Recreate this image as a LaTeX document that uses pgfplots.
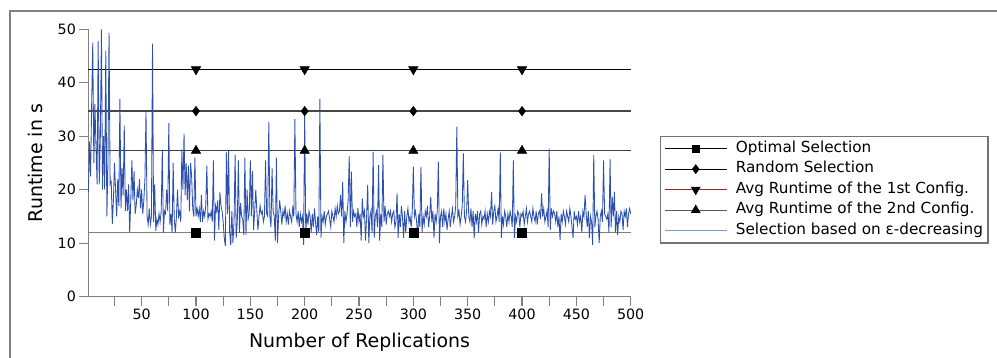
\documentclass[border=0pt]{standalone}
\usepackage{fontspec}
\setmainfont{DejaVu Sans}
\usepackage{pgfplots}
\pgfplotsset{compat=1.18}
\definecolor{epsblue}{RGB}{45,80,175}
\definecolor{legblue}{RGB}{120,150,215}
\definecolor{legred}{RGB}{140,40,40}
\begin{document}
\begin{tikzpicture}
\useasboundingbox (0bp,0bp) rectangle (997bp,358bp);
\draw[line width=1.6bp, color=black!50] (10bp,-10bp) -- (10bp,347bp) -- (1010bp,347bp);
\begin{axis}[
  at={(88.4bp,61.3bp)}, anchor=south west, scale only axis,
  width=542.3bp, height=267.4bp,
  xmin=1, xmax=500, ymin=0, ymax=50,
  axis x line*=bottom, axis y line*=left,
  axis line style={-, line width=1.5bp, color=black!50},
  tick align=outside, major tick length=9bp,
  tick style={line width=1.2bp, color=black!50},
  xtick={25,50,...,500},
  xticklabels={,50,,100,,150,,200,,250,,300,,350,,400,,450,,500},
  ytick={0,10,...,50},
  /pgf/number format/assume math mode=true,
  tick label style={font=\fontsize{14.3}{14.3}\selectfont, color=black},
  xlabel={Number of Replications},
  ylabel={Runtime in s},
  label style={font=\fontsize{19}{19}\selectfont},
  xlabel style={at={(axis description cs:0.5,-0.172)}, anchor=center},
  ylabel style={at={(axis description cs:-0.0977,0.5)}, anchor=center},
  clip=false,
  legend image code/.code={\draw[mark repeat=2,mark phase=2] plot coordinates {(0bp,0bp) (31bp,0bp) (62bp,0bp)};},
  legend style={at={(axis description cs:1.054,0.602)}, anchor=north west,
    draw=black!55, line width=1.3bp, inner xsep=3.5bp, inner ysep=3.5bp,
    font=\fontsize{15.3}{15.3}\selectfont, row sep=3bp,
    nodes={inner sep=1.5bp, text height=11bp, text depth=3.5bp},
    /tikz/every odd column/.append style={column sep=7bp}},
  legend cell align=left,
]
% horizontal reference lines
\addplot[forget plot, black, line width=1.3bp] coordinates {(1,42.5) (500,42.5)};
\addplot[forget plot, black!72, line width=1.3bp] coordinates {(1,34.7) (500,34.7)};
\addplot[forget plot, black!75, line width=1.3bp] coordinates {(1,27.3) (500,27.3)};
\addplot[forget plot, black!50, line width=1.3bp] coordinates {(1,12) (500,12)};
% epsilon-decreasing series
\addplot[forget plot, epsblue, line width=0.85bp] coordinates {
(1,19.5)(2,29)(3,22.5)(4,36)(5,47.5)(6,25)(7,36)(8,28)(9,21)(10,47.8)
(11,21)(12,30)(13,50)(14,20)(15,30)(16,20)(17,46)(18,15)(19,25)(20,49.4)
(21,21)(22,21.5)(23,13.6)(24,18)(25,25)(26,20)(27,15)(28,22)(29,17)(30,37)
(31,16.5)(32,24)(33,19)(34,32)(35,16)(36,20)(37,16)(38,21)(39,12)(40,18)
(41,25.5)(42,18)(43,23.5)(44,15.5)(45,17)(46,20)(47,18.5)(48,22)(49,16.5)(50,20)
(51,15.5)(52,18)(53,22)(54,34.5)(55,15)(56,13.5)(57,16.5)(58,13.5)(59,15)(60,47.3)
(61,14)(62,21)(63,12.3)(64,14.5)(65,13.5)(66,15.5)(67,14)(68,16)(69,27.5)(70,12)
(71,16)(72,15.5)(73,20)(74,16)(75,32.5)(76,13.5)(77,15.5)(78,12)(79,25)(80,14.5)
(81,12)(82,15)(83,20)(84,15)(85,16)(86,14)(87,27.5)(88,20)(89,30.5)(90,19)
(91,25)(92,18)(93,24.5)(94,16)(95,25)(96,22.5)(97,16.5)(98,15)(99,26)(100,15)
(101,16.5)(102,15)(103,16.5)(104,14)(105,19)(106,14)(107,16)(108,15)(109,17)(110,24.5)
(111,14.5)(112,15.5)(113,15)(114,16)(115,14)(116,25.5)(117,10.5)(118,17)(119,16)(120,18)
(121,12.5)(122,19.5)(123,17)(124,16)(125,14)(126,11)(127,9.5)(128,27)(129,15.5)(130,27.3)
(131,12)(132,9.6)(133,16)(134,10)(135,14)(136,26.5)(137,11)(138,14)(139,25.5)(140,12)
(141,17.5)(142,15)(143,14.5)(144,11.5)(145,26)(146,11.5)(147,20)(148,14.5)(149,15.5)(150,25.5)
(151,15)(152,23.5)(153,12.5)(154,16)(155,20)(156,16)(157,12.5)(158,15)(159,17)(160,15.5)
(161,16)(162,14)(163,15)(164,25.5)(165,15.5)(166,15)(167,32.7)(168,15)(169,13)(170,24)
(171,16)(172,15)(173,10.5)(174,26)(175,10)(176,15)(177,18)(178,16)(179,13.5)(180,16)
(181,15)(182,17)(183,14)(184,15.5)(185,13.5)(186,16)(187,15)(188,14)(189,16.5)(190,15)
(191,33.2)(192,15.5)(193,14)(194,16)(195,13)(196,15.5)(197,14)(198,15)(199,9.7)(200,34.3)
(201,12)(202,15.5)(203,13.5)(204,16)(205,15)(206,12)(207,15.5)(208,13)(209,16.5)(210,14)
(211,11.5)(212,15)(213,12)(214,37)(215,11)(216,15)(217,14)(218,16)(219,13.5)(220,15)
(221,15.5)(222,16)(223,14.5)(224,13)(225,16)(226,15)(227,14)(228,16.5)(229,15)(230,17)
(231,15.5)(232,16)(233,19)(234,15)(235,21.5)(236,10)(237,16)(238,14)(239,15.5)(240,18)
(241,26.3)(242,13)(243,23.4)(244,14)(245,16)(246,15)(247,15.5)(248,13)(249,16.6)(250,14)
(251,15.5)(252,10.5)(253,18.4)(254,15)(255,16)(256,10.5)(257,15)(258,20.9)(259,10)(260,15)
(261,16)(262,12)(263,27.1)(264,11)(265,15)(266,16)(267,13)(268,24.6)(269,10.5)(270,15.5)
(271,13)(272,26.5)(273,14)(274,17)(275,13.5)(276,15.5)(277,16)(278,15)(279,16)(280,14)
(281,15.5)(282,16)(283,13)(284,14)(285,19.3)(286,11)(287,15.5)(288,13)(289,17)(290,15)
(291,11)(292,16)(293,12)(294,15)(295,16.5)(296,14)(297,15)(298,13)(299,16)(300,24.3)
(301,15)(302,16)(303,14)(304,11.5)(305,15.5)(306,13)(307,24.3)(308,12)(309,15)(310,13.5)
(311,16)(312,15)(313,17)(314,13)(315,15)(316,18.7)(317,14)(318,16)(319,11)(320,15.5)
(321,14)(322,16)(323,25.2)(324,10)(325,15)(326,16)(327,13)(328,16.5)(329,14)(330,15.5)
(331,12.5)(332,14.5)(333,16)(334,13)(335,15)(336,16.5)(337,14)(338,15)(339,17)(340,31.8)
(341,15)(342,16)(343,13.5)(344,15)(345,17)(346,26.8)(347,15)(348,14)(349,16)(350,21.8)
(351,15)(352,14)(353,16.5)(354,13)(355,16)(356,11)(357,15.5)(358,14)(359,16)(360,12)
(361,15.5)(362,16)(363,13.5)(364,15)(365,14.5)(366,16)(367,13)(368,15.5)(369,14)(370,16)
(371,15)(372,19.6)(373,13.5)(374,16)(375,17)(376,14)(377,15)(378,16.5)(379,14)(380,27.1)
(381,11)(382,15)(383,13.5)(384,16)(385,15)(386,13)(387,15.5)(388,14)(389,16)(390,15)
(391,13)(392,25.5)(393,11)(394,15)(395,14)(396,16)(397,15.5)(398,13)(399,15.5)(400,15)
(401,16)(402,13.5)(403,15)(404,16.5)(405,14)(406,15.5)(407,16)(408,15)(409,14)(410,16.5)
(411,15)(412,14)(413,16)(414,13.5)(415,15.5)(416,16)(417,14.5)(418,19.3)(419,15)(420,16.5)
(421,14)(422,15)(423,16)(424,13)(425,27.7)(426,12.5)(427,16.5)(428,15)(429,16)(430,15.5)
(431,14)(432,16)(433,13)(434,15)(435,10.6)(436,15.5)(437,14)(438,16)(439,15)(440,13.5)
(441,16)(442,15)(443,14)(444,16.5)(445,15)(446,13)(447,11)(448,16)(449,14.5)(450,15)
(451,13.5)(452,16)(453,14)(454,15)(455,12)(456,16)(457,15)(458,19)(459,15.5)(460,13)
(461,16)(462,11)(463,15)(464,14)(465,9.7)(466,26.5)(467,13)(468,15)(469,16)(470,14.5)
(471,10)(472,15)(473,16)(474,14)(475,25.5)(476,15.5)(477,15)(478,14.5)(479,15.5)(480,12)
(481,25.7)(482,13)(483,18.7)(484,15)(485,19.6)(486,12)(487,16)(488,11.5)(489,15)(490,14)
(491,16)(492,15.5)(493,12.5)(494,16)(495,15)(496,16.5)(497,13)(498,15.5)(499,16.5)(500,15.5)
};
% markers
\addplot[forget plot, only marks, mark=square*, mark size=4.5bp, black] coordinates {(100,12) (200,12) (300,12) (400,12)};
\addplot[forget plot, only marks, mark=diamond*, mark size=4.8bp, black] coordinates {(100,34.7) (200,34.7) (300,34.7) (400,34.7)};
\addplot[forget plot, only marks, mark=triangle*, mark size=5.5bp, mark options={rotate=180}, black] coordinates {(100,42.5) (200,42.5) (300,42.5) (400,42.5)};
\addplot[forget plot, only marks, mark=triangle*, mark size=5.5bp, black] coordinates {(100,27.3) (200,27.3) (300,27.3) (400,27.3)};
% legend entries
\addlegendimage{black, line width=1.2bp, mark=square*, mark size=3.5bp, mark options={black}}
\addlegendentry{Optimal Selection}
\addlegendimage{black, line width=1.2bp, mark=diamond*, mark size=4bp, mark options={black}}
\addlegendentry{Random Selection}
\addlegendimage{legred, line width=1.2bp, mark=triangle*, mark size=4.5bp, mark options={black, rotate=180}}
\addlegendentry{Avg Runtime of the 1st Config.}
\addlegendimage{black!65, line width=1.2bp, mark=triangle*, mark size=4.5bp, mark options={black}}
\addlegendentry{Avg Runtime of the 2nd Config.}
\addlegendimage{legblue, line width=1.2bp}
\addlegendentry{Selection based on ε-decreasing}
\end{axis}
\end{tikzpicture}
\end{document}
